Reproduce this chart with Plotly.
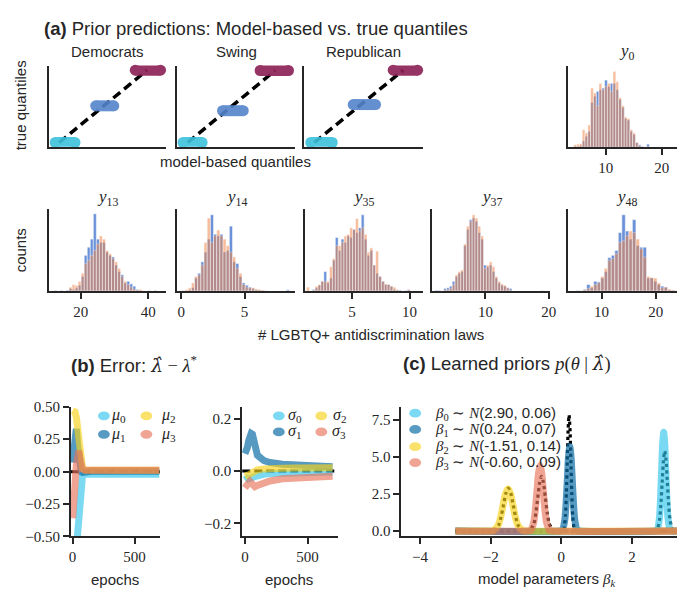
import plotly.graph_objects as go

W, H = 685, 589
SANS = "Liberation Sans"
SERIF = "Liberation Serif"
INK = "#262626"

# ---------------- data ----------------
# (a) quantile plots: true quantile (y) and spread of model-based quantiles (x)
quantile_colors = ["#3cc1dc", "#5484cc", "#8a1f55"]
dem_true_q = [1.0, 5.06, 9.0]
dem_model_q_min = [0.63, 4.32, 7.93]
dem_model_q_max = [2.43, 5.97, 10.23]
swing_true_q = [1.0, 4.52, 8.97]
swing_model_q_min = [0.57, 4.17, 7.6]
swing_model_q_max = [2.31, 6.06, 10.18]
rep_true_q = [1.0, 5.2, 9.0]
rep_model_q_min = [0.68, 4.5, 8.1]
rep_model_q_max = [2.61, 6.51, 10.3]

# (a) histograms: bin start, bin width, counts (model-based = blue, true = orange)
y0_start, y0_width = 4.29, 0.5
y0_blue = [3, 2, 5, 20, 35, 50, 140, 160, 175, 180, 185, 210, 190, 200, 200, 180, 150, 125, 90, 85,
           50, 40, 15, 8, 3, 0, 10, 0, 0, 0, 0, 0, 0, 0, 0, 0, 0, 0]
y0_orange = [8, 10, 12, 55, 45, 70, 185, 170, 130, 200, 180, 190, 200, 175, 237, 205, 155, 130, 95, 90,
             55, 45, 15, 5, 0, 0, 3, 0, 0, 0, 0, 0, 0, 0, 0, 0, 0, 5]
y13_start, y13_width = 12.0, 0.9
y13_blue = [2, 0, 2, 0, 3, 8, 5, 10, 18, 45, 110, 135, 160, 238, 160, 150, 150, 120, 110, 105,
            80, 60, 50, 25, 30, 22, 15, 5, 2, 0, 0, 2, 0, 2]
y13_orange = [0, 0, 0, 0, 0, 12, 20, 18, 30, 55, 85, 95, 110, 125, 145, 170, 160, 125, 115, 100,
              90, 70, 45, 30, 20, 12, 6, 3, 5, 2, 0, 0, 0, 2]
y14_start, y14_width = 0.05, 0.25
y14_blue = [0, 0, 3, 10, 40, 55, 90, 120, 160, 235, 175, 170, 175, 120, 125, 200, 90, 85, 45, 25,
            18, 12, 8, 4, 3, 2, 0, 0, 0, 0, 0, 0, 0, 4]
y14_orange = [2, 5, 10, 25, 45, 50, 80, 150, 225, 150, 170, 188, 170, 160, 140, 120, 105, 70, 55, 20,
              12, 10, 10, 6, 5, 3, 2, 0, 0, 0, 0, 0, 0, 0]
y35_start, y35_width = 1.057, 0.25
y35_blue = [0, 0, 5, 10, 18, 30, 60, 25, 40, 95, 165, 125, 160, 150, 170, 165, 190, 180, 195, 235,
            160, 110, 125, 80, 55, 45, 30, 20, 20, 15, 5, 3, 3, 0, 2, 4, 0]
y35_orange = [12, 0, 3, 15, 20, 30, 30, 30, 75, 100, 140, 140, 150, 170, 175, 195, 190, 223, 185, 195,
              175, 120, 133, 80, 123, 45, 30, 22, 20, 15, 12, 5, 0, 0, 0, 4, 0]
y37_start, y37_width = 2.05, 0.45
y37_blue = [3, 2, 0, 8, 10, 15, 30, 45, 55, 60, 140, 190, 220, 225, 215, 180, 160, 80, 75, 80,
            60, 40, 25, 18, 15, 10, 8, 0, 0, 0, 0, 0, 0, 0, 0, 0, 0, 0]
y37_orange = [0, 0, 0, 3, 5, 8, 20, 50, 60, 65, 145, 200, 215, 235, 225, 200, 170, 70, 80, 90,
              75, 45, 30, 22, 18, 10, 3, 0, 0, 0, 0, 0, 0, 0, 0, 0, 0, 2]
y48_start, y48_width = 5.3, 0.65
y48_blue = [2, 0, 5, 20, 10, 30, 28, 40, 60, 103, 110, 125, 180, 235, 185, 160, 220, 140, 135, 135,
            40, 40, 30, 20, 15, 12, 3, 2, 0]
y48_orange = [0, 2, 3, 8, 15, 20, 25, 45, 70, 95, 100, 115, 150, 155, 170, 185, 180, 160, 130, 105,
              45, 42, 40, 25, 10, 12, 6, 3, 2]
hist_blue_color = "#4878d0"
hist_orange_color = "#ee854a"

# (b) error of hyperparameters over epochs
epochs = [0, 10, 20, 30, 40, 50, 60, 70, 80, 100, 150, 200, 300, 400, 500, 600, 700]
mu0_err = [-0.9, -0.85, -0.75, -0.6, -0.45, -0.3, -0.15, -0.06, -0.03, -0.02, -0.02, -0.02, -0.02, -0.02, -0.02, -0.02, -0.02]
mu1_err = [0.07, 0.2, 0.3, 0.33, 0.2, 0.1, 0.03, 0.0, -0.005, 0.0, 0.003, 0.003, 0.003, 0.003, 0.003, 0.003, 0.003]
mu2_err = [0.47, 0.47, 0.46, 0.42, 0.32, 0.2, 0.12, 0.06, 0.03, 0.012, 0.01, 0.01, 0.01, 0.01, 0.01, 0.01, 0.01]
mu3_err = [-0.36, -0.28, -0.1, 0.05, 0.14, 0.16, 0.1, 0.05, 0.02, 0.01, 0.01, 0.01, 0.01, 0.01, 0.01, 0.01, 0.01]
sig0_err = [-0.035, -0.03, -0.028, -0.03, -0.03, -0.028, -0.025, -0.022, -0.02, -0.017, -0.013, -0.01, -0.008, -0.006, -0.005, -0.005, -0.004]
sig1_err = [0.066, 0.075, 0.09, 0.115, 0.135, 0.143, 0.14, 0.12, 0.095, 0.06, 0.04, 0.032, 0.026, 0.022, 0.02, 0.018, 0.016]
sig2_err = [-0.02, -0.02, -0.018, -0.015, -0.012, -0.008, -0.005, -0.002, 0.0, 0.004, 0.008, 0.01, 0.01, 0.011, 0.011, 0.012, 0.012]
sig3_err = [-0.065, -0.06, -0.05, -0.045, -0.04, -0.045, -0.052, -0.058, -0.06, -0.055, -0.045, -0.038, -0.03, -0.027, -0.025, -0.024, -0.02]
param_colors = ["#35c5ec", "#0f6fa8", "#f7d31a", "#e8735a"]
param_opacity = [0.65, 0.7, 0.65, 0.65]

# (c) learned priors (legend values) and curve points
learned_means = [2.90, 0.24, -1.51, -0.60]
learned_sds = [0.06, 0.07, 0.14, 0.09]
b0_x = [-3.0, 2.66, 2.72, 2.78, 2.81, 2.84, 2.87, 2.90, 2.93, 2.96, 2.99, 3.02, 3.08, 3.14, 3.5]
b0_y = [0, 0, 0.07, 0.90, 2.16, 4.03, 5.87, 6.65, 5.87, 4.03, 2.16, 0.90, 0.07, 0, 0]
b1_x = [-3.0, -0.04, 0.03, 0.10, 0.135, 0.17, 0.205, 0.24, 0.275, 0.31, 0.345, 0.38, 0.45, 0.52, 3.5]
b1_y = [0, 0, 0.06, 0.77, 1.85, 3.46, 5.03, 5.70, 5.03, 3.46, 1.85, 0.77, 0.06, 0, 0]
b2_x = [-3.0, -2.07, -1.93, -1.79, -1.72, -1.65, -1.58, -1.51, -1.44, -1.37, -1.30, -1.23, -1.09, -0.95, 3.5]
b2_y = [0, 0, 0.03, 0.39, 0.92, 1.73, 2.52, 2.85, 2.52, 1.73, 0.92, 0.39, 0.03, 0, 0]
b3_x = [-3.0, -0.96, -0.87, -0.78, -0.735, -0.69, -0.645, -0.60, -0.555, -0.51, -0.465, -0.42, -0.33, -0.24, 3.5]
b3_y = [0, 0, 0.05, 0.60, 1.44, 2.69, 3.91, 4.43, 3.91, 2.69, 1.44, 0.60, 0.05, 0, 0]
true_b0_x = [-3.0, 2.634, 2.708, 2.782, 2.819, 2.856, 2.893, 2.93, 2.967, 3.004, 3.041, 3.078, 3.152, 3.226, 3.5]
true_b0_y = [0, 0, 0.06, 0.73, 1.75, 3.27, 4.76, 5.39, 4.76, 3.27, 1.75, 0.73, 0.06, 0, 0]
true_b1_x = [-3.0, 0.016, 0.067, 0.118, 0.143, 0.169, 0.194, 0.22, 0.246, 0.271, 0.297, 0.322, 0.373, 0.424, 3.5]
true_b1_y = [0, 0, 0.09, 1.06, 2.54, 4.74, 6.90, 7.82, 6.90, 4.74, 2.54, 1.06, 0.09, 0, 0]
true_b2_x = [-3.0, -2.052, -1.914, -1.776, -1.707, -1.638, -1.569, -1.50, -1.431, -1.362, -1.293, -1.224, -1.086, -0.948, 3.5]
true_b2_y = [0, 0, 0.03, 0.39, 0.94, 1.75, 2.55, 2.89, 2.55, 1.75, 0.94, 0.39, 0.03, 0, 0]
true_b3_x = [-3.0, -0.992, -0.884, -0.776, -0.722, -0.668, -0.614, -0.56, -0.506, -0.452, -0.398, -0.344, -0.236, -0.128, 3.5]
true_b3_y = [0, 0, 0.04, 0.50, 1.20, 2.24, 3.26, 3.69, 3.26, 2.24, 1.20, 0.50, 0.04, 0, 0]


# ---------------- helpers ----------------
def fx(p):
    return p / W


def fy(p):
    return 1 - p / H


def serif(s, fam=SERIF):
    return f'<span style="font-family:{fam}">{s}</span>'


LAMBDA_HAT = serif("<i>λ̂</i>", "DejaVu Serif")

fig = go.Figure()
layout = {}


def add_axes(n, xpx, ypx, xrange, yrange, xticks=None, yticks=None, xfmt=None, yfmt=None):
    xs = "" if n == 1 else str(n)
    xa = dict(domain=[fx(xpx[0]), fx(xpx[1])], range=xrange, anchor="y" + xs,
              showline=True, linewidth=2, linecolor=INK, showgrid=False, zeroline=False,
              fixedrange=True)
    ya = dict(domain=[fy(ypx[1]), fy(ypx[0])], range=yrange, anchor="x" + xs,
              showline=True, linewidth=2, linecolor=INK, showgrid=False, zeroline=False,
              fixedrange=True)
    for ax, ticks, fmt in ((xa, xticks, xfmt), (ya, yticks, yfmt)):
        if ticks is None:
            ax.update(showticklabels=False, ticks="")
        else:
            ax.update(tickvals=ticks, ticks="outside", ticklen=6, tickwidth=2, tickcolor=INK,
                      tickfont=dict(family=SERIF, size=15, color=INK))
            if fmt:
                ax["tickformat"] = fmt
    layout["xaxis" + xs] = xa
    layout["yaxis" + xs] = ya
    return "x" + xs, "y" + xs


annotations = []


def ann(text, x, y, size=15, family=SANS, xanchor="center", angle=0):
    annotations.append(dict(text=text, x=fx(x), y=fy(y), xref="paper", yref="paper",
                            xanchor=xanchor, yanchor="middle", showarrow=False, textangle=angle,
                            font=dict(family=family, size=size, color=INK)))


# ---------------- (a) quantile panels ----------------
qq_panels = [
    ("Democrats", dem_true_q, dem_model_q_min, dem_model_q_max, (39.3, 158.3)),
    ("Swing", swing_true_q, swing_model_q_min, swing_model_q_max, (169.3, 288.3)),
    ("Republican", rep_true_q, rep_model_q_min, rep_model_q_max, (297.3, 417.7)),
]
for i, (name, tq, qmin, qmax, xpx) in enumerate(qq_panels):
    xr, yr = add_axes(i + 1, xpx, (51, 134.3), [0.05, 10.77], [0.54, 9.51])
    fig.add_trace(go.Scatter(x=[tq[0], tq[-1]], y=[tq[0], tq[-1]], mode="lines",
                             line=dict(color="black", width=3.5, dash="9px,5px"),
                             xaxis=xr, yaxis=yr, showlegend=False, hoverinfo="skip"))
    for j in range(3):
        fig.add_trace(go.Scatter(x=[qmin[j], qmax[j]], y=[tq[j], tq[j]], mode="lines+markers",
                                 line=dict(color=quantile_colors[j], width=11),
                                 marker=dict(color=quantile_colors[j], size=11),
                                 opacity=0.9, cliponaxis=False,
                                 xaxis=xr, yaxis=yr, showlegend=False))
    ann(name, (xpx[0] + xpx[1]) / 2, 36)

ann("true quantiles", 11, 92, angle=-90)
ann("model-based quantiles", 228, 150)

# ---------------- (a) histograms ----------------
hist_panels = [
    (4, "0", y0_start, y0_width, y0_blue, y0_orange, (564.3, 683.3), (51.7, 135), [3.2, 24.2], [10, 20]),
    (5, "13", y13_start, y13_width, y13_blue, y13_orange, (39.3, 158.3), (198.3, 282.7), [10.5, 45.4], [20, 40]),
    (6, "14", y14_start, y14_width, y14_blue, y14_orange, (169.3, 288.3), (198.3, 282.7), [-0.31, 8.98], [0, 5]),
    (7, "35", y35_start, y35_width, y35_blue, y35_orange, (298.3, 417.7), (198.3, 282.7), [0.91, 11.15], [5, 10]),
    (8, "37", y37_start, y37_width, y37_blue, y37_orange, (427.3, 546.7), (198.3, 282.7), [1.6, 20.26], [10, 20]),
    (9, "48", y48_start, y48_width, y48_blue, y48_orange, (564.3, 683.3), (198.3, 282.7), [3.76, 25.47], [10, 20]),
]
for n, lab, start, bw, blue, orange, xpx, ypx, xrange, ticks in hist_panels:
    xr, yr = add_axes(n, xpx, ypx, xrange, [0, 253], xticks=ticks)
    centers = [start + bw * (k + 0.5) for k in range(len(blue))]
    fig.add_trace(go.Bar(x=centers, y=blue, width=bw, marker=dict(color=hist_blue_color,
                         line=dict(color="white", width=0.5)), opacity=0.8,
                         xaxis=xr, yaxis=yr, showlegend=False, name="model-based"))
    fig.add_trace(go.Bar(x=centers, y=orange, width=bw, marker=dict(color=hist_orange_color,
                         line=dict(color="white", width=0.5)), opacity=0.55,
                         xaxis=xr, yaxis=yr, showlegend=False, name="true"))
    ty = 37 if n == 4 else 187
    ann(serif(f"<i>y</i><sub>{lab}</sub>"), (xpx[0] + xpx[1]) / 2, ty, size=17)

ann("counts", 11, 241, angle=-90)
ann("# LGBTQ+ antidiscrimination laws", 365, 327)
ann("<b>(a)</b> Prior predictions: Model-based vs. true quantiles", 248.5, 13, size=18.5)

# ---------------- (b) error panels ----------------
shapes = []
xr, yr = add_axes(10, (61.7, 151.7), (401.7, 535), [-13, 705], [-0.5, 0.5],
                  xticks=[0, 500], yticks=[-0.5, -0.25, 0, 0.25, 0.5], xfmt="d", yfmt=".2f")
shapes.append(dict(type="line", xref="x10 domain", yref="y10", x0=0, x1=1, y0=0, y1=0,
                   line=dict(color="black", width=3, dash="8px,4px"), layer="below"))
for k, series in enumerate([mu0_err, mu1_err, mu2_err, mu3_err]):
    fig.add_trace(go.Scatter(x=epochs, y=series, mode="lines",
                             line=dict(color=param_colors[k], width=7), opacity=param_opacity[k],
                             xaxis=xr, yaxis=yr, showlegend=False, name=f"mu{k}"))

xr, yr = add_axes(11, (235, 331.7), (401.7, 535), [-21, 742], [-0.25, 0.245],
                  xticks=[0, 500], yticks=[-0.2, 0, 0.2], xfmt="d", yfmt=".1f")
shapes.append(dict(type="line", xref="x11 domain", yref="y11", x0=0, x1=1, y0=0, y1=0,
                   line=dict(color="black", width=3, dash="8px,4px"), layer="below"))
for k, series in enumerate([sig0_err, sig1_err, sig2_err, sig3_err]):
    fig.add_trace(go.Scatter(x=epochs, y=series, mode="lines",
                             line=dict(color=param_colors[k], width=7), opacity=param_opacity[k],
                             xaxis=xr, yaxis=yr, showlegend=False, name=f"sigma{k}"))

ann("epochs", 106, 579)
ann("epochs", 282, 579)
ann("<b>(b)</b> Error: " + LAMBDA_HAT + serif(" − <i>λ</i><sup>*</sup>"), 125.5, 358, size=18.5)


def legend_entry(color, opac, mx, my, tc, text, size=15):
    shapes.append(dict(type="circle", xref="paper", yref="paper",
                       x0=fx(mx - 6), x1=fx(mx + 6), y0=fy(my + 4.5), y1=fy(my - 4.5),
                       fillcolor=color, opacity=opac, line=dict(width=0)))
    ann(text, tc, my, size=size)


mu_pos = [(95, 411, 110), (95, 430, 110), (138, 411, 160), (138, 430, 160)]
sig_pos = [(272, 411, 288), (272, 427.5, 288), (315, 411, 333), (315, 427.5, 333)]
for k in range(4):
    mx, my, tc = mu_pos[k]
    legend_entry(param_colors[k], param_opacity[k], mx, my, tc, serif(f"<i>μ</i><sub>{k}</sub>"), 16)
    mx, my, tc = sig_pos[k]
    legend_entry(param_colors[k], param_opacity[k], mx, my, tc, serif(f"<i>σ</i><sub>{k}</sub>"), 16)

# ---------------- (c) learned priors ----------------
xr, yr = add_axes(12, (396, 685), (401.7, 535), [-4.53, 3.56], [-0.37, 8.37],
                  xticks=[-4, -2, 0, 2], yticks=[0, 2.5, 5, 7.5], xfmt="d", yfmt=".1f")
true_curves = [(true_b0_x, true_b0_y), (true_b1_x, true_b1_y), (true_b2_x, true_b2_y), (true_b3_x, true_b3_y)]
for k, (cx, cy) in enumerate(true_curves):
    fig.add_trace(go.Scatter(x=cx, y=cy, mode="lines", line=dict(color="black", width=3.2, dash="dot",
                             shape="spline", smoothing=0.6),
                             xaxis=xr, yaxis=yr, showlegend=False, name=f"true beta{k}"))
curves = [(b0_x, b0_y), (b1_x, b1_y), (b2_x, b2_y), (b3_x, b3_y)]
for k, (cx, cy) in enumerate(curves):
    fig.add_trace(go.Scatter(x=cx, y=cy, mode="lines", line=dict(color=param_colors[k], width=7,
                             shape="spline", smoothing=0.6), opacity=param_opacity[k],
                             xaxis=xr, yaxis=yr, showlegend=False, name=f"beta{k}"))

beta_rows = [408.3, 425, 442.7, 459]
beta_centers = [491, 491, 493.5, 493.5]
for k in range(4):
    label = serif(f"<i>β</i><sub>{k}</sub> ∼ <i>N</i>") + f"({learned_means[k]:.2f}, {learned_sds[k]:.2f})"
    legend_entry(param_colors[k], param_opacity[k], 410, beta_rows[k], beta_centers[k], label)

ann("model parameters " + serif("<i>β</i><sub><i>k</i></sub>"), 543, 579)
ann("<b>(c)</b> Learned priors " + serif("<i>p</i>(<i>θ</i> | ") + LAMBDA_HAT + serif(")"),
    502.5, 358, size=18.5)

fig.update_layout(**layout)
fig.update_layout(width=W, height=H, autosize=False, margin=dict(l=0, r=0, t=0, b=0),
                  paper_bgcolor="white", plot_bgcolor="white", barmode="overlay",
                  font=dict(family=SANS, color=INK, size=15), showlegend=False,
                  annotations=annotations, shapes=shapes)
fig.write_html("out.html")
